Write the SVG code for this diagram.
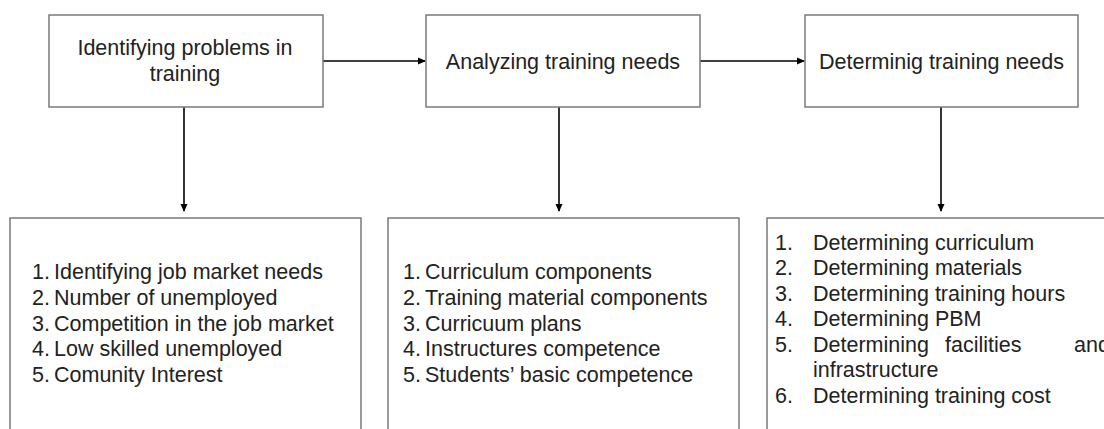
<svg xmlns="http://www.w3.org/2000/svg" width="1104" height="429" viewBox="0 0 1104 429">
<style>
.box{fill:#fff;stroke:#7a7a7a;stroke-width:1.5}
.t{font-family:"Liberation Sans",Arial,sans-serif;font-size:21.5px;fill:#222}
.c{text-anchor:middle}
.con{stroke:#000;stroke-width:1.6;fill:none}
</style>
<defs>
<marker id="ah" markerWidth="8" markerHeight="8" refX="7" refY="4" orient="auto" markerUnits="userSpaceOnUse">
<path d="M0,0.5 L8,4 L0,7.5 Z" fill="#000"/>
</marker>
</defs>
<rect width="1104" height="429" fill="#fff"/>
<g id="connectors">
<line class="con" x1="323" y1="61" x2="425" y2="61" marker-end="url(#ah)"/>
<line class="con" x1="700" y1="61" x2="804" y2="61" marker-end="url(#ah)"/>
<line class="con" x1="184" y1="107" x2="184" y2="211" marker-end="url(#ah)"/>
<line class="con" x1="559" y1="107" x2="559" y2="211" marker-end="url(#ah)"/>
<line class="con" x1="941" y1="107" x2="941" y2="211" marker-end="url(#ah)"/>
</g>
<g id="n1">
<rect class="box" x="49" y="15" width="274" height="92"/>
<text class="t c" x="185" y="55">Identifying problems in</text>
<text class="t c" x="185" y="81">training</text>
</g>
<g id="n2">
<rect class="box" x="426" y="15" width="274" height="92"/>
<text class="t c" x="563" y="69">Analyzing training needs</text>
</g>
<g id="n3">
<rect class="box" x="805" y="15" width="273" height="92"/>
<text class="t c" x="941.5" y="69">Determinig training needs</text>
</g>
<g id="n4">
<rect class="box" x="10" y="218" width="351" height="230"/>
<text class="t" x="32" y="279">1.</text><text class="t" x="54" y="279">Identifying job market needs</text>
<text class="t" x="32" y="305">2.</text><text class="t" x="54" y="305">Number of unemployed</text>
<text class="t" x="32" y="330.5">3.</text><text class="t" x="54" y="330.5">Competition in the job market</text>
<text class="t" x="32" y="356">4.</text><text class="t" x="54" y="356">Low skilled unemployed</text>
<text class="t" x="32" y="382">5.</text><text class="t" x="54" y="382">Comunity Interest</text>
</g>
<g id="n5">
<rect class="box" x="388" y="218" width="351" height="230"/>
<text class="t" x="403" y="279">1.</text><text class="t" x="425" y="279">Curriculum components</text>
<text class="t" x="403" y="305">2.</text><text class="t" x="425" y="305">Training material components</text>
<text class="t" x="403" y="330.5">3.</text><text class="t" x="425" y="330.5">Curricuum plans</text>
<text class="t" x="403" y="356">4.</text><text class="t" x="425" y="356">Instructures competence</text>
<text class="t" x="403" y="382">5.</text><text class="t" x="425" y="382">Students’ basic competence</text>
</g>
<g id="n6">
<rect class="box" x="767" y="218" width="360" height="230"/>
<text class="t" x="775" y="250">1.</text><text class="t" x="813" y="250">Determining curriculum</text>
<text class="t" x="775" y="275">2.</text><text class="t" x="813" y="275">Determining materials</text>
<text class="t" x="775" y="300.5">3.</text><text class="t" x="813" y="300.5">Determining training hours</text>
<text class="t" x="775" y="326">4.</text><text class="t" x="813" y="326">Determining PBM</text>
<text class="t" x="775" y="351.5">5.</text><text class="t" x="813" y="351.5">Determining</text><text class="t" x="945" y="351.5">facilities</text><text class="t" x="1074" y="351.5">and</text>
<text class="t" x="813" y="377">infrastructure</text>
<text class="t" x="775" y="402.5">6.</text><text class="t" x="813" y="402.5">Determining training cost</text>
</g>
</svg>
